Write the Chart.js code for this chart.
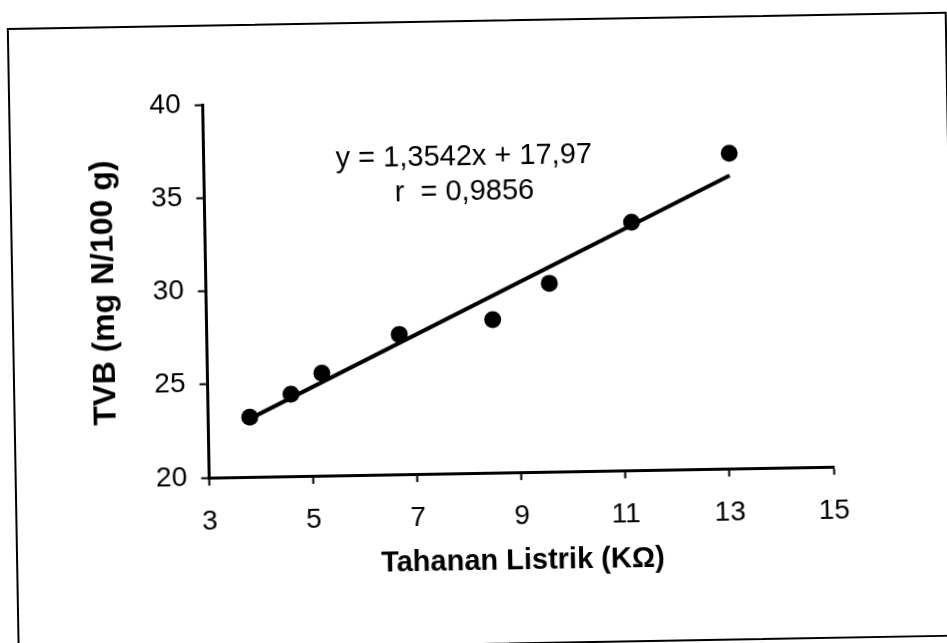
<!DOCTYPE html>
<html>
<head>
<meta charset="utf-8">
<script src="https://cdn.jsdelivr.net/npm/chart.js@4/dist/chart.umd.min.js"></script>
<style>
  html, body { margin: 0; padding: 0; background: #fff; overflow: hidden; }
  /* la hoja escaneada esta un poco girada */
  #hoja {
    position: absolute; left: 0; top: 0; width: 947px; height: 643px;
    transform: rotate(-1deg); transform-origin: 50% 50%;
  }
  #marco {
    position: absolute; left: 12px; top: 20px; width: 936px; height: 621px;
    border: 2px solid #000;
  }
  #myChart { position: absolute; left: 0; top: 0; }
</style>
</head>
<body>
<div id="hoja">
  <div id="marco"></div>
  <canvas id="myChart" width="947" height="643"></canvas>
</div>
<script>
// datos
const resistance = [3.8, 4.6, 5.2, 6.7, 8.5, 9.6, 11.2, 13.1];
const tvb = [23.2, 24.4, 25.5, 27.5, 28.2, 30.1, 33.3, 36.9];

// recta de regresion publicada
const trendSlope = 1.3542;
const trendIntercept = 17.97;
const equationLines = ["y = 1,3542x + 17,97", "r  = 0,9856"];

// etiquetas de los ejes
const xTickValues = [3, 5, 7, 9, 11, 13, 15];
const yTickValues = [20, 25, 30, 35, 40];
const xTitle = "Tahanan Listrik (KΩ)";
const yTitle = "TVB (mg N/100 g)";

const FONT = "'Liberation Sans', Arial, sans-serif";

var points = resistance.map(function (x, i) {
  return { x: x, y: tvb[i] };
});
var xMin = Math.min.apply(null, resistance);
var xMax = Math.max.apply(null, resistance);
var trend = [
  { x: xMin, y: trendSlope * xMin + trendIntercept },
  { x: xMax, y: trendSlope * xMax + trendIntercept },
];

// TEXTO DE LA ECUACION
const equationText = {
  id: "equationText",
  afterDatasetsDraw: function (chart) {
    const ctx = chart.ctx;
    const xs = chart.scales.x;
    const ys = chart.scales.y;
    ctx.save();
    ctx.font = "29px " + FONT;
    ctx.fillStyle = "#000";
    ctx.textAlign = "center";
    ctx.textBaseline = "middle";
    ctx.fillText(equationLines[0], xs.getPixelForValue(8), ys.getPixelForValue(36.95));
    ctx.fillText(equationLines[1], xs.getPixelForValue(8), ys.getPixelForValue(35.05));
    ctx.restore();
  },
};

var axisGrid = {
  drawOnChartArea: false,
  drawTicks: true,
  tickLength: 8,
  tickWidth: 2,
  tickColor: "#000",
};

var options = {
  responsive: false,
  animation: false,
  layout: { padding: { top: 100, right: 116, left: 0, bottom: 0 } },
  plugins: { legend: { display: false }, tooltip: { enabled: false } },
  scales: {
    x: {
      type: "linear",
      min: 3,
      max: 15,
      afterBuildTicks: function (scale) {
        scale.ticks = xTickValues.map(function (v) { return { value: v }; });
      },
      afterFit: function (scale) { scale.height = 170; },
      grid: axisGrid,
      border: { display: true, color: "#000", width: 3 },
      ticks: { color: "#000", padding: 19, maxRotation: 0, font: { family: FONT, size: 28 } },
      title: {
        display: true,
        text: xTitle,
        color: "#000",
        padding: { top: 0, bottom: 64 },
        font: { family: FONT, size: 29, weight: "bold" },
      },
    },
    y: {
      type: "linear",
      min: 20,
      max: 40,
      afterBuildTicks: function (scale) {
        scale.ticks = yTickValues.map(function (v) { return { value: v }; });
      },
      afterFit: function (scale) { scale.width = 206.5; },
      grid: axisGrid,
      border: { display: true, color: "#000", width: 3 },
      ticks: { color: "#000", padding: 14, font: { family: FONT, size: 28 } },
      title: {
        display: true,
        text: yTitle,
        color: "#000",
        padding: { top: 86, bottom: 0 },
        font: { family: FONT, size: 32, weight: "bold" },
      },
    },
  },
};

// CREAR GRAFICO
var ctx = document.getElementById("myChart").getContext("2d");
var myChart = new Chart(ctx, {
  type: "scatter",
  data: {
    datasets: [
      {
        label: "Regresi",
        type: "line",
        data: trend,
        borderColor: "#000",
        borderWidth: 4,
        pointRadius: 0,
        fill: false,
      },
      {
        label: "TVB",
        data: points,
        backgroundColor: "#000",
        borderColor: "#000",
        borderWidth: 0,
        pointRadius: 8.5,
      },
    ],
  },
  options: options,
  plugins: [equationText],
});
</script>
</body>
</html>
